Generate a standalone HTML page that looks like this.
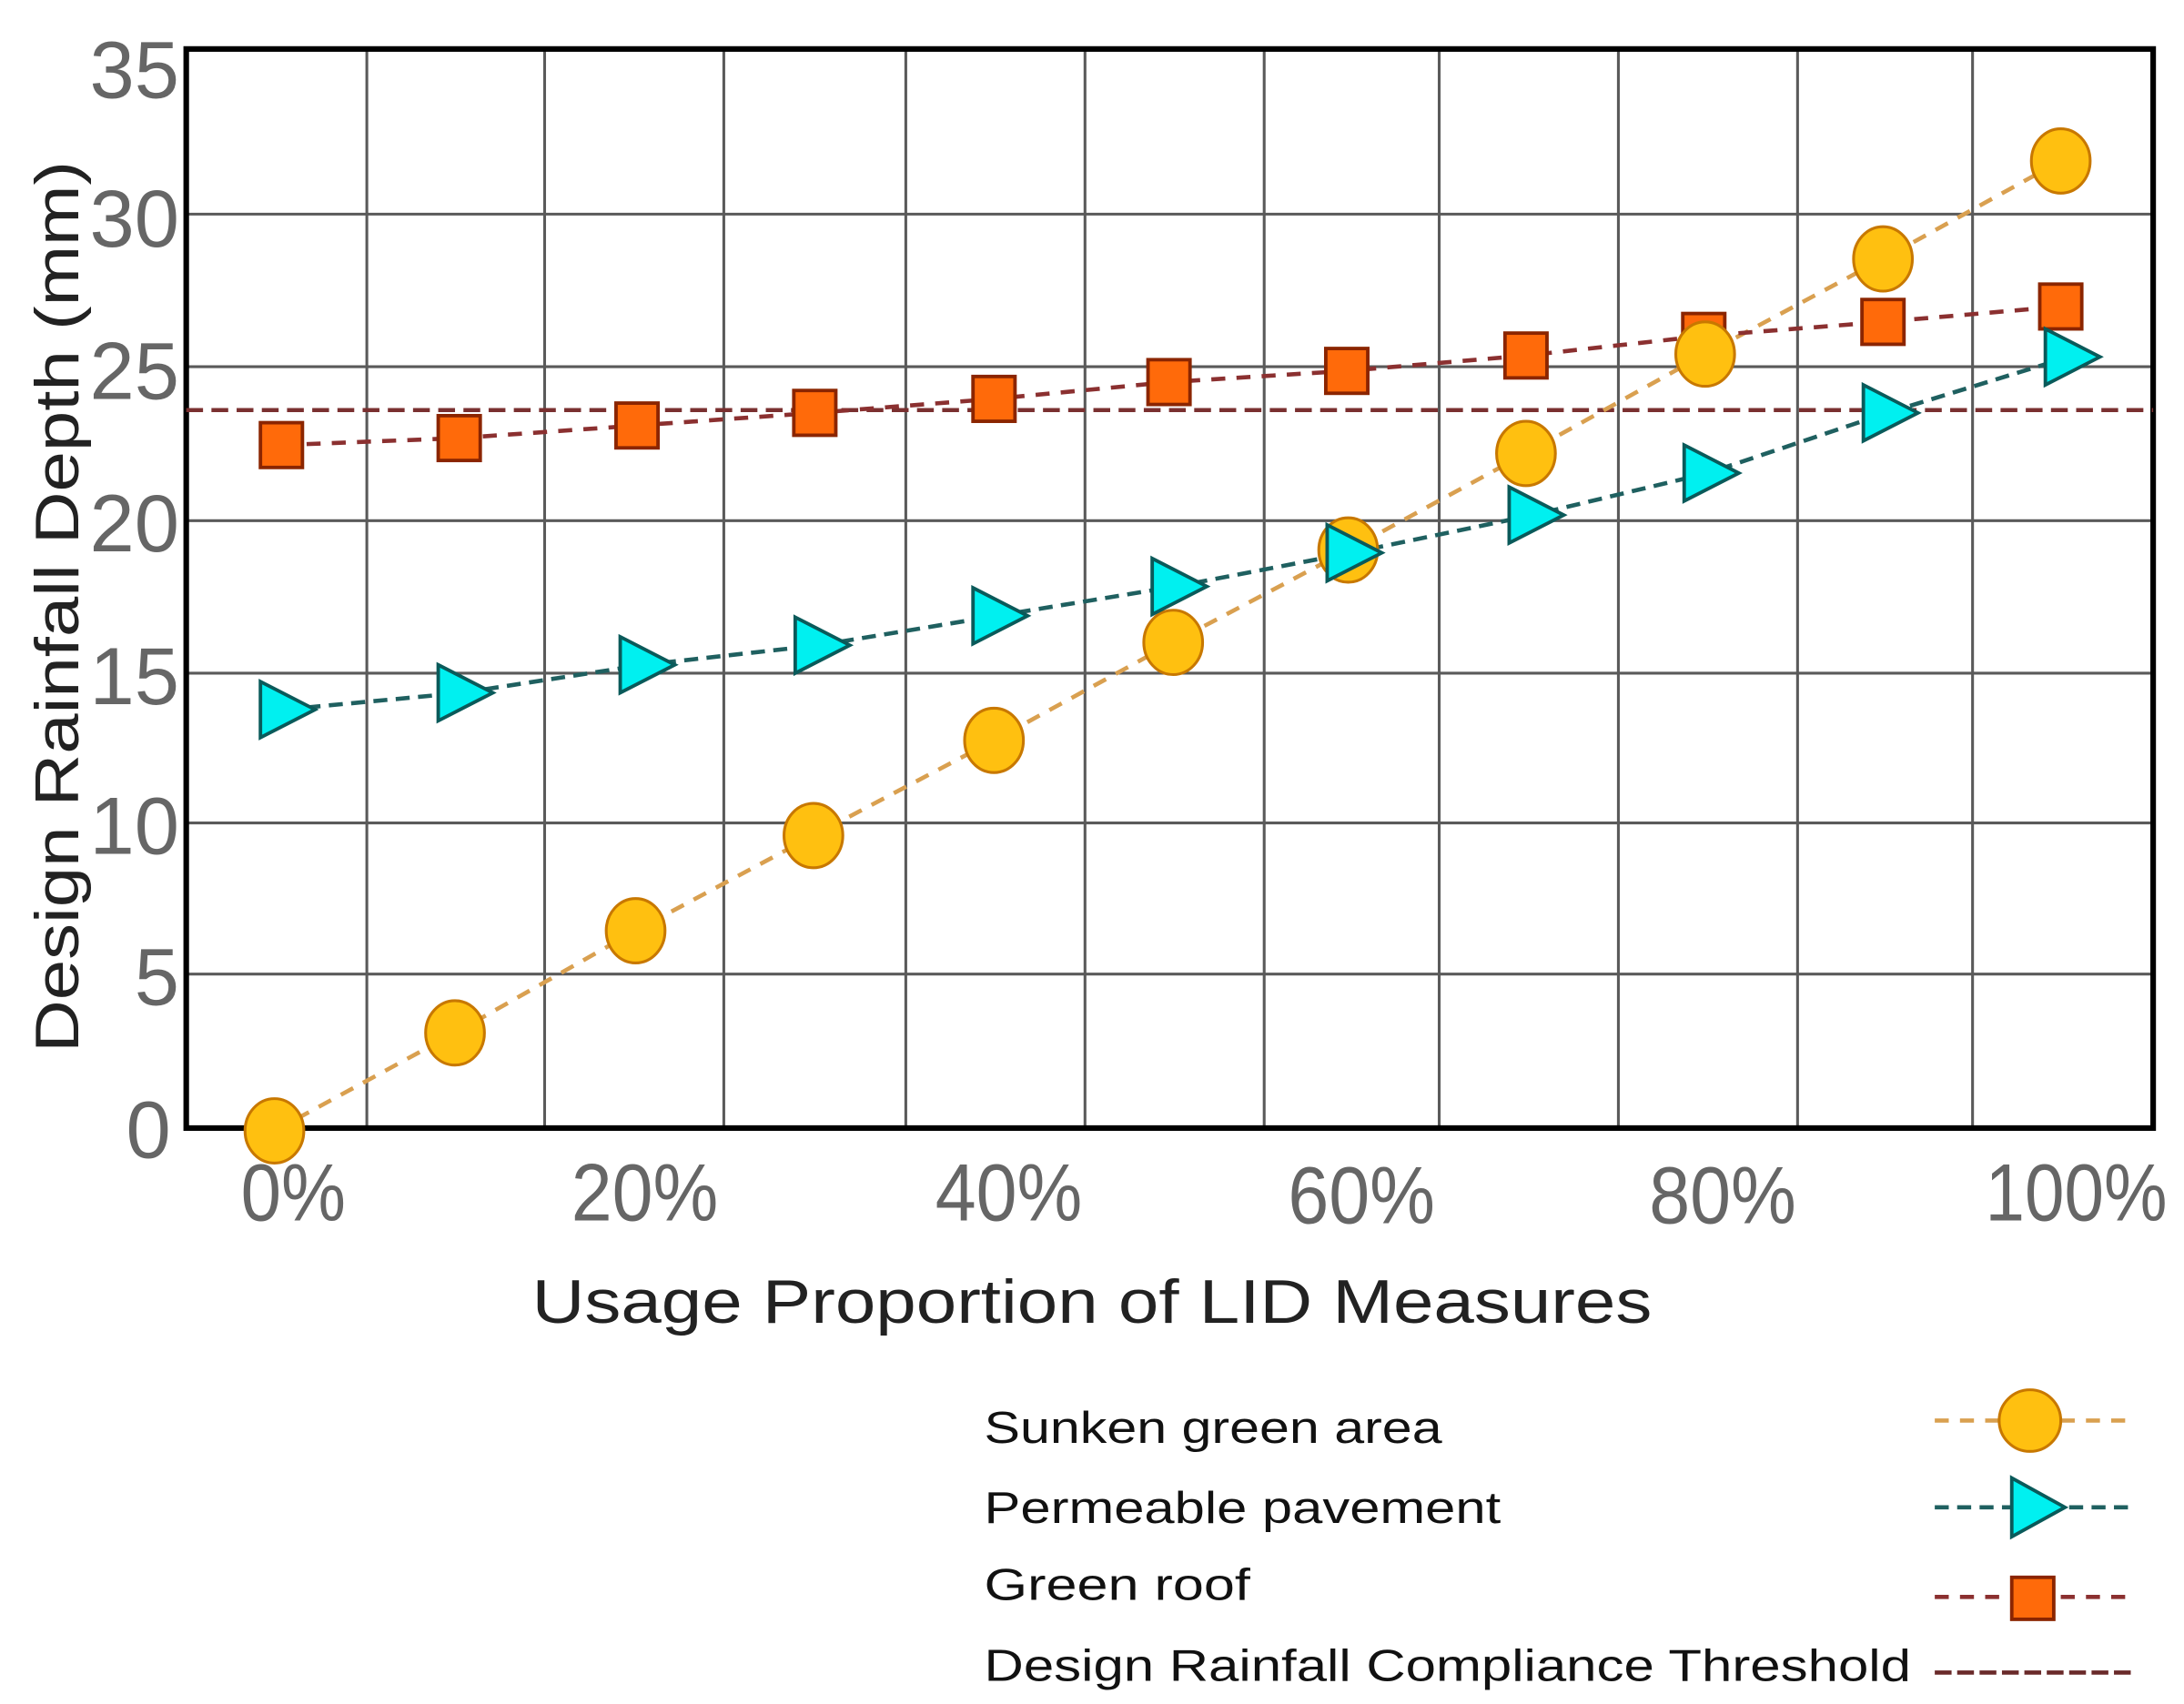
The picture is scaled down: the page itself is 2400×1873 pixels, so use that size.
<!DOCTYPE html>
<html><head><meta charset="utf-8"><style>html,body{margin:0;padding:0;background:#fff}svg{display:block}</style></head>
<body>
<svg width="2400" height="1873" viewBox="0 0 1560 1217.5" xmlns="http://www.w3.org/2000/svg">
<rect x="0" y="0" width="1560" height="1217.5" fill="#fff"/>
<g stroke="#5a5a5a" stroke-width="2">
<line x1="133" y1="153" x2="1538" y2="153"/>
<line x1="133" y1="262" x2="1538" y2="262"/>
<line x1="133" y1="372" x2="1538" y2="372"/>
<line x1="133" y1="481" x2="1538" y2="481"/>
<line x1="133" y1="588" x2="1538" y2="588"/>
<line x1="133" y1="696" x2="1538" y2="696"/>
<line x1="262" y1="35" x2="262" y2="806"/>
<line x1="389" y1="35" x2="389" y2="806"/>
<line x1="517" y1="35" x2="517" y2="806"/>
<line x1="647" y1="35" x2="647" y2="806"/>
<line x1="775" y1="35" x2="775" y2="806"/>
<line x1="903" y1="35" x2="903" y2="806"/>
<line x1="1028" y1="35" x2="1028" y2="806"/>
<line x1="1156" y1="35" x2="1156" y2="806"/>
<line x1="1284" y1="35" x2="1284" y2="806"/>
<line x1="1409" y1="35" x2="1409" y2="806"/>
</g>
<rect x="133" y="35" width="1405" height="771" fill="none" stroke="#000" stroke-width="4"/>
<line x1="133" y1="293" x2="1538" y2="293" stroke="#7a3030" stroke-width="3" stroke-dasharray="12,6"/>
<polyline fill="none" stroke="#d9a050" stroke-width="3" stroke-dasharray="10,8" points="196,808 325,738 454,665 581,597 710,529 838,459 963,393 1090,324 1218,253 1345,185 1472,115"/>
<polyline fill="none" stroke="#1f6060" stroke-width="3" stroke-dasharray="10,6" points="203,507 330,495 460,475 585,461 712,440 840,419 965,395 1095,368 1220,338 1348,295 1478,255"/>
<polyline fill="none" stroke="#8b3030" stroke-width="3" stroke-dasharray="10,8" points="201,318 328,313 455,304 582,295 710,285 835,273 962,265 1090,254 1217,240 1345,230 1472,219"/>
<g fill="#ff6a0a" stroke="#8b2500" stroke-width="2.5">
<rect x="186" y="302" width="30" height="32"/><rect x="313" y="297" width="30" height="32"/><rect x="440" y="288" width="30" height="32"/><rect x="567" y="279" width="30" height="32"/><rect x="695" y="269" width="30" height="32"/><rect x="820" y="257" width="30" height="32"/><rect x="947" y="249" width="30" height="32"/><rect x="1075" y="238" width="30" height="32"/><rect x="1202" y="224" width="30" height="32"/><rect x="1330" y="214" width="30" height="32"/><rect x="1457" y="203" width="30" height="32"/>
</g>
<g fill="#ffc010" stroke="#c87800" stroke-width="2">
<ellipse cx="196" cy="808" rx="21" ry="23"/><ellipse cx="325" cy="738" rx="21" ry="23"/><ellipse cx="454" cy="665" rx="21" ry="23"/><ellipse cx="581" cy="597" rx="21" ry="23"/><ellipse cx="710" cy="529" rx="21" ry="23"/><ellipse cx="838" cy="459" rx="21" ry="23"/><ellipse cx="963" cy="393" rx="21" ry="23"/><ellipse cx="1090" cy="324" rx="21" ry="23"/><ellipse cx="1218" cy="253" rx="21" ry="23"/><ellipse cx="1345" cy="185" rx="21" ry="23"/><ellipse cx="1472" cy="115" rx="21" ry="23"/>
</g>
<g fill="#00f0f0" stroke="#0a5a5a" stroke-width="2.5">
<polygon points="186,487 225,507 186,527"/><polygon points="313,475 352,495 313,515"/><polygon points="443,455 482,475 443,495"/><polygon points="568,441 607,461 568,481"/><polygon points="695,420 734,440 695,460"/><polygon points="823,399 862,419 823,439"/><polygon points="948,375 987,395 948,415"/><polygon points="1078,348 1117,368 1078,388"/><polygon points="1203,318 1242,338 1203,358"/><polygon points="1331,275 1370,295 1331,315"/><polygon points="1461,235 1500,255 1461,275"/>
</g>
<g font-family="Liberation Sans, sans-serif" font-size="58" fill="#666" text-anchor="end">
<text x="128" y="70" textLength="64" lengthAdjust="spacingAndGlyphs">35</text>
<text x="128" y="176" textLength="64" lengthAdjust="spacingAndGlyphs">30</text>
<text x="128" y="285" textLength="64" lengthAdjust="spacingAndGlyphs">25</text>
<text x="128" y="394" textLength="64" lengthAdjust="spacingAndGlyphs">20</text>
<text x="128" y="503" textLength="64" lengthAdjust="spacingAndGlyphs">15</text>
<text x="128" y="610" textLength="64" lengthAdjust="spacingAndGlyphs">10</text>
<text x="128" y="718" textLength="32" lengthAdjust="spacingAndGlyphs">5</text>
<text x="122" y="827" textLength="32" lengthAdjust="spacingAndGlyphs">0</text>
</g>
<g font-family="Liberation Sans, sans-serif" font-size="58" fill="#666">
<text x="172" y="872" textLength="75" lengthAdjust="spacingAndGlyphs">0%</text>
<text x="408" y="872" textLength="105" lengthAdjust="spacingAndGlyphs">20%</text>
<text x="668" y="872" textLength="105" lengthAdjust="spacingAndGlyphs">40%</text>
<text x="920" y="874" textLength="105" lengthAdjust="spacingAndGlyphs">60%</text>
<text x="1178" y="874" textLength="105" lengthAdjust="spacingAndGlyphs">80%</text>
<text x="1418" y="872" textLength="130" lengthAdjust="spacingAndGlyphs">100%</text>
</g>
<text x="380" y="945" font-family="Liberation Sans, sans-serif" font-size="44" fill="#222" textLength="800" lengthAdjust="spacingAndGlyphs">Usage Proportion of LID Measures</text>
<text transform="translate(56,752) rotate(-90)" x="0" y="0" font-family="Liberation Sans, sans-serif" font-size="44" fill="#222" textLength="637" lengthAdjust="spacingAndGlyphs">Design Rainfall Depth (mm)</text>
<g font-family="Liberation Sans, sans-serif" font-size="32" fill="#111">
<text x="703" y="1031" textLength="327" lengthAdjust="spacingAndGlyphs">Sunken green area</text>
<text x="703" y="1088" textLength="369" lengthAdjust="spacingAndGlyphs">Permeable pavement</text>
<text x="703" y="1143" textLength="190" lengthAdjust="spacingAndGlyphs">Green roof</text>
<text x="703" y="1201" textLength="662" lengthAdjust="spacingAndGlyphs">Design Rainfall Compliance Threshold</text>
</g>
<line x1="1382" y1="1015" x2="1525" y2="1015" stroke="#d9a050" stroke-width="3" stroke-dasharray="10,8"/>
<ellipse cx="1450" cy="1015" rx="22" ry="22" fill="#ffc010" stroke="#c87800" stroke-width="2"/>
<line x1="1382" y1="1077" x2="1525" y2="1077" stroke="#1f6060" stroke-width="3" stroke-dasharray="10,6"/>
<polygon points="1437,1056 1475,1077 1437,1098" fill="#00f0f0" stroke="#0a5a5a" stroke-width="2.5"/>
<line x1="1382" y1="1141" x2="1525" y2="1141" stroke="#8b3030" stroke-width="3" stroke-dasharray="10,8"/>
<rect x="1437" y="1127" width="30" height="30" fill="#ff6a0a" stroke="#8b2500" stroke-width="2.5"/>
<line x1="1382" y1="1195" x2="1525" y2="1195" stroke="#6a2a2a" stroke-width="3" stroke-dasharray="12,4"/>
</svg>
</body></html>
